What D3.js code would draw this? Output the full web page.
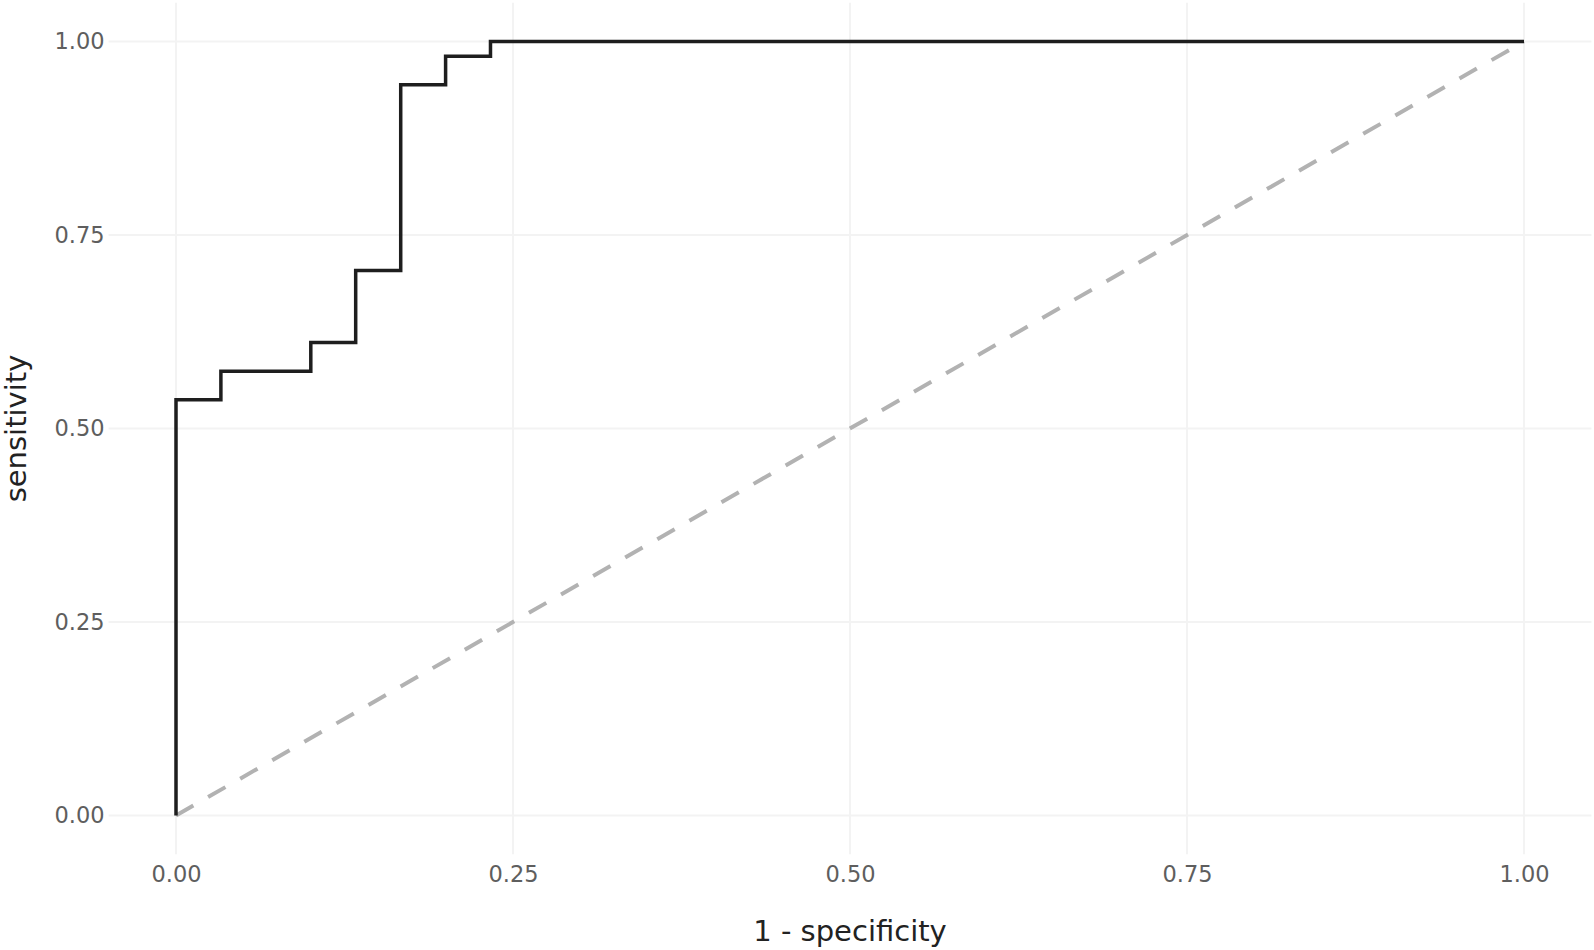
<!DOCTYPE html>
<html>
<head>
<meta charset="utf-8">
<script src="https://cdn.jsdelivr.net/npm/d3@7"></script>
<style>
  html, body { margin: 0; padding: 0; background: #fff; }
  svg { display: block; }
</style>
</head>
<body>
<svg id="chart" width="1594" height="950"></svg>
<script>
// ROC curve: 1 - specificity vs sensitivity
var fpr = [0, 0, 0.0333, 0.1, 0.1333, 0.1667, 0.2, 0.2333, 1];
var tpr = [0, 0.537, 0.574, 0.611, 0.704, 0.944, 0.981, 1, 1];

// reference (chance) line
var chanceX = [0, 1];
var chanceY = [0, 1];

var tickValues = [0, 0.25, 0.5, 0.75, 1];

var svg = d3.select('#chart');

// panel spans data range expanded by 5% each side
var panel = {left: 108.6, right: 1591.4, top: 2.8, bottom: 854.2};

var x = d3.scaleLinear().domain([-0.05, 1.05]).range([panel.left, panel.right]);
var y = d3.scaleLinear().domain([-0.05, 1.05]).range([panel.bottom, panel.top]);

// grid
var grid = svg.append('g').attr('class', 'grid');
grid.selectAll('line.vgrid')
	.data(tickValues)
	.enter().append('line')
	.attr('x1', function(d) { return x(d); })
	.attr('x2', function(d) { return x(d); })
	.attr('y1', panel.top)
	.attr('y2', panel.bottom)
	.attr('stroke', '#f3f3f3')
	.attr('stroke-width', 2);
grid.selectAll('line.hgrid')
	.data(tickValues)
	.enter().append('line')
	.attr('x1', panel.left)
	.attr('x2', panel.right)
	.attr('y1', function(d) { return y(d); })
	.attr('y2', function(d) { return y(d); })
	.attr('stroke', '#f3f3f3')
	.attr('stroke-width', 2);

// axes (ticks labels only, no domain lines)
var fmt = d3.format('.2f');

var xAxis = svg.append('g')
	.attr('transform', 'translate(0,' + (panel.bottom + 4) + ')')
	.call(d3.axisBottom(x).tickValues(tickValues).tickFormat(fmt).tickSize(0).tickPadding(8));
var yAxis = svg.append('g')
	.attr('transform', 'translate(' + (panel.left - 4) + ',0)')
	.call(d3.axisLeft(y).tickValues(tickValues).tickFormat(fmt).tickSize(0).tickPadding(0));

[xAxis, yAxis].forEach(function(ax) {
	ax.select('.domain').remove();
	ax.selectAll('text')
		.attr('fill', '#5e5e5e')
		.style('font-family', 'DejaVu Sans, Verdana, sans-serif')
		.style('font-size', '22.5px');
});

// chance line
var chanceLine = d3.line()
	.x(function(d, i) { return x(chanceX[i]); })
	.y(function(d, i) { return y(chanceY[i]); });
svg.append('path')
	.attr('d', chanceLine(chanceX))
	.attr('fill', 'none')
	.attr('stroke', '#b2b2b2')
	.attr('stroke-width', 4)
	.attr('stroke-dasharray', '20,17');

// ROC step curve
var rocLine = d3.line()
	.x(function(d, i) { return x(fpr[i]); })
	.y(function(d, i) { return y(tpr[i]); })
	.curve(d3.curveStepAfter);
svg.append('path')
	.attr('d', rocLine(fpr))
	.attr('fill', 'none')
	.attr('stroke', '#1e1e1e')
	.attr('stroke-width', 3.5);

// axis titles
svg.append('text')
	.attr('x', (panel.left + panel.right) / 2)
	.attr('y', 941)
	.attr('text-anchor', 'middle')
	.attr('fill', '#222')
	.style('font-family', 'DejaVu Sans, Verdana, sans-serif')
	.style('font-size', '29px')
	.text('1 - specificity');

svg.append('text')
	.attr('transform', 'translate(26,' + ((panel.top + panel.bottom) / 2) + ') rotate(-90)')
	.attr('text-anchor', 'middle')
	.attr('fill', '#222')
	.style('font-family', 'DejaVu Sans, Verdana, sans-serif')
	.style('font-size', '29px')
	.text('sensitivity');
</script>
</body>
</html>
